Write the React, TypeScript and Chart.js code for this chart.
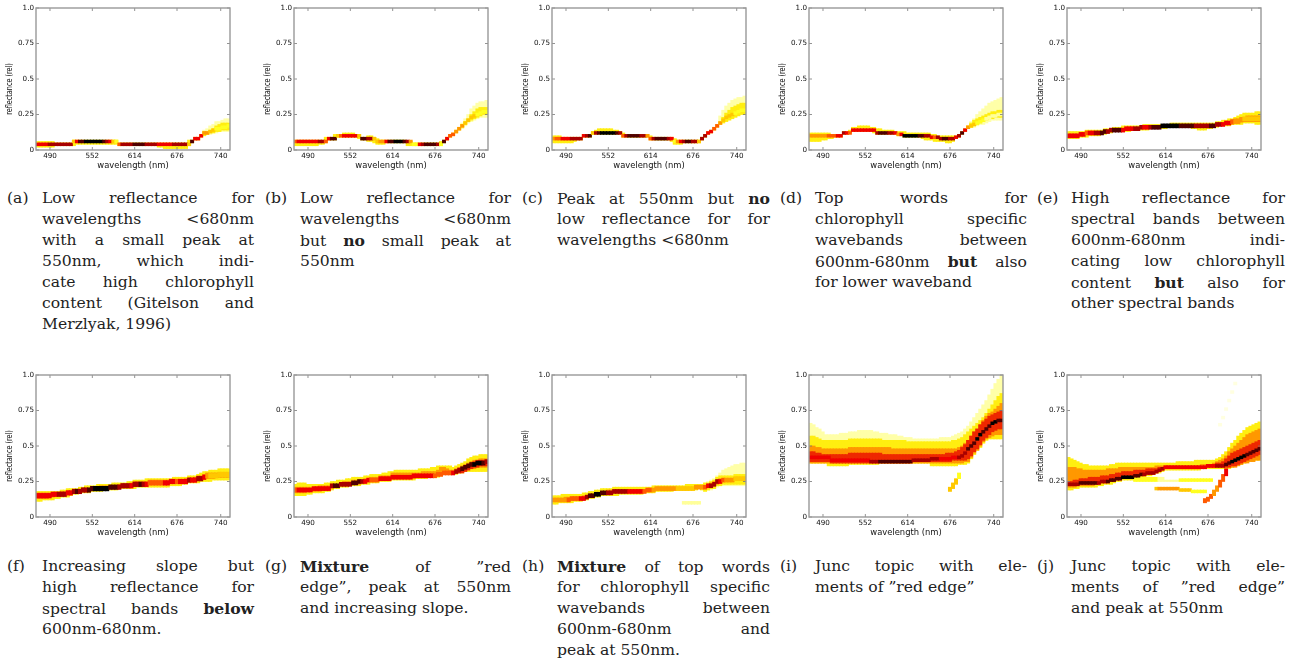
import React, { useEffect, useRef } from "react";
import { Chart, registerables } from "chart.js";

Chart.register(...registerables);

const WAVELENGTHS = [
  471.7, 476.2, 480.6, 485.0, 489.5, 493.9, 498.4, 502.8, 507.2, 511.7, 516.1, 520.6, 525.0, 529.4, 533.9, 538.3,
  542.7, 547.2, 551.6, 556.1, 560.5, 564.9, 569.4, 573.8, 578.3, 582.7, 587.1, 591.6, 596.0, 600.5, 604.9, 609.3,
  613.8, 618.2, 622.6, 627.1, 631.5, 636.0, 640.4, 644.8, 649.3, 653.7, 658.2, 662.6, 667.0, 671.5, 675.9, 680.4,
  684.8, 689.2, 693.7, 698.1, 702.5, 707.0, 711.4, 715.9, 720.3, 724.7, 729.2, 733.6, 738.1, 742.5, 746.9, 751.4,
];
const X_TICKS = [490, 552, 614, 676, 740];
const Y_TICKS = [0, 0.25, 0.5, 0.75, 1];
const Y_TICK_LABELS = ["0", "0.25", "0.5", "0.75", "1.0"];
const HEAT_COLORS = ["#ffffe0", "#ffff9a", "#ffff20", "#ffc800", "#ff9800", "#ff5a00", "#f00000", "#a80000", "#500000", "#000000"];

// All reflectance columns below are in hundredths of reflectance.
const aCore = [4,4,4,4,4,4,4,4, 4,4,4,4,6,6,6,6, 6,6,6,6,6,6,6,6, 6,6,6,4,4,4,4,4, 4,4,4,4,4,4,4,4, 4,4,4,4,4,4,4,4, 4,4,4,6,8,8,10,12, 12,13,14,15,15,16,16,17];
const aHeat = [6,6,6,6,7,7,7,7, 7,7,7,7,3,6,8,8, 9,9,9,9,9,9,8,7, 6,3,2,5,7,7,7,7, 8,8,8,8,7,7,7,7, 6,6,6,6,6,7,7,7, 7,7,3,8,6,6,6,4, 4,3,3,2,2,2,2,2];
const aBandLow = [2,2,2,2,2,2,3,3, 3,3,3,3,3,4,4,4, 4,4,4,4,4,4,4,4, 4,4,4,3,3,3,3,3, 3,3,3,3,3,3,3,3, 2,2,1,1,1,1,1,1, 1,1,3,5,7,7,9,10, 11,12,12,13,13,14,14,14];
const aBandHigh = [6,6,6,6,6,6,5,5, 5,5,5,5,7,7,7,7, 7,7,7,7,7,7,7,7, 7,7,7,5,5,5,5,5, 5,5,5,5,5,5,5,5, 5,5,5,5,5,5,5,5, 5,5,7,7,9,9,11,13, 13,14,15,17,18,19,19,19];
const aGlowLow = [10,11,11,12,12,13,13,13,13];
const aGlowHigh = [14,15,17,18,20,20,21,22,22];

const bCore = [6,6,6,6,6,6,6,6, 6,6,6,8,8,8,10,10, 10,10,10,10,10,10,8,8, 8,8,8,6,6,6,6,6, 6,6,6,6,6,6,6,4, 4,4,4,4,4,4,4,4, 4,6,8,10,11,13,15,17, 19,21,23,24,25,26,27,27];
const bHeat = [5,6,6,6,6,6,6,6, 7,7,5,6,8,8,3,5, 6,6,6,6,6,3,8,8, 7,7,3,3,4,4,6,8, 8,9,9,9,8,7,4,2, 2,6,7,8,8,8,8,7, 2,8,6,5,5,4,4,4, 3,3,3,3,2,2,2,2];
const bBandLow = [3,3,3,3,3,3,3,3, 4,4,5,7,7,7,9,9, 9,9,9,9,9,8,7,7, 6,6,5,4,4,4,5,5, 5,5,5,5,5,3,3,3, 3,3,3,3,3,3,3,3, 3,5,7,9,10,12,14,16, 18,20,21,22,23,24,25,25];
const bBandHigh = [7,7,7,7,7,7,7,7, 7,7,9,9,9,11,11,11, 12,12,12,12,11,11,9,9, 10,10,9,8,7,7,7,7, 7,7,7,7,7,6,6,5, 5,5,5,5,5,5,5,5, 6,7,9,11,12,14,16,18, 20,22,25,27,29,30,30,30];
const bGlowLow = [15,17,19,20,21,22,23,23,23];
const bGlowHigh = [19,22,25,29,31,33,34,34,35];

const cCore = [8,8,8,8,8,8,8,8, 8,8,10,10,10,12,12,12, 12,12,12,12,12,12,12,10, 10,10,10,10,10,10,10,10, 8,8,8,8,8,8,8,8, 6,6,6,6,6,6,6,6, 6,8,10,12,13,15,17,19, 21,23,24,25,26,27,28,28];
const cHeat = [4,5,5,6,6,6,7,7, 7,7,6,7,8,3,7,8, 9,9,9,9,9,8,7,5, 7,8,8,8,8,7,7,4, 5,7,8,8,8,8,7,6, 2,4,6,7,8,8,7,7, 3,7,7,6,6,5,5,4, 3,3,3,3,2,2,2,2];
const cBandLow = [5,5,5,5,5,5,5,6, 7,7,9,9,9,11,11,11, 11,11,11,11,11,11,11,9, 9,9,9,9,9,9,9,9, 7,7,7,7,7,7,7,6, 4,4,4,5,5,5,5,5, 5,7,9,11,12,14,16,18, 19,20,21,22,23,24,25,25];
const cBandHigh = [10,10,10,9,9,9,9,9, 9,9,11,11,11,13,14,15, 15,15,15,15,14,14,13,12, 11,11,11,11,11,11,11,11, 10,9,9,9,9,9,9,9, 8,7,7,7,7,7,7,7, 7,9,11,13,14,16,18,20, 23,26,28,30,31,32,33,33];
const cGlowLow = [19,20,21,22,23,24,25,25,25];
const cGlowHigh = [24,28,31,33,35,36,37,37,38];

const dCore = [10,10,10,10,10,10,10,10, 10,10,10,12,12,12,14,14, 14,14,14,14,14,14,12,12, 12,12,12,12,12,11,11,10, 10,10,10,10,10,10,10,10, 9,9,9,8,8,8,8,8, 9,10,12,14,16,17,18,19, 20,21,22,23,24,24,25,25];
const dHeat = [4,4,4,4,4,4,5,5, 5,6,6,7,6,5,6,6, 6,6,6,6,6,6,7,8, 8,8,7,7,6,4,6,9, 9,9,9,9,8,8,7,7, 6,5,7,7,8,8,7,7, 6,7,8,6,4,3,3,2, 2,2,1,1,1,1,1,1];
const dBandLow = [6,6,6,6,7,7,8,8, 9,9,9,11,11,12,13,13, 13,13,13,13,13,12,11,11, 11,11,11,11,11,10,10,9, 9,9,9,9,9,8,7,7, 7,6,6,6,6,5,5,6, 8,9,11,13,15,16,17,18, 19,20,21,22,22,23,23,23];
const dBandHigh = [12,12,12,12,12,12,12,11, 11,11,11,13,13,14,16,16, 17,17,17,17,16,16,15,15, 14,14,14,14,13,13,13,13, 12,12,12,12,12,12,12,12, 11,11,10,10,10,10,10,10, 10,11,13,15,17,19,21,22, 23,24,25,26,27,27,28,28];
const dGlowLow = [15,16,16,17,18,18,19,20,21,21,21,21];
const dGlowHigh = [17,20,22,25,27,29,31,33,34,35,36,37];

const eCore = [10,10,10,10,11,11,12,12, 12,12,12,12,13,13,14,14, 14,14,14,15,15,15,15,15, 16,16,16,16,16,16,16,17, 17,17,17,17,17,17,17,17, 17,17,17,17,17,17,17,17, 17,18,18,18,19,19,20,20, 20,21,22,22,22,22,22,22];
const eHeat = [6,6,6,6,6,6,5,6, 6,7,7,8,8,7,7,8, 8,8,6,6,6,6,7,7, 7,6,6,7,8,8,8,9, 9,9,9,9,9,8,8,8, 8,8,7,7,7,7,7,8, 8,7,7,6,6,6,5,4, 4,4,3,3,3,3,3,3];
const eBandLow = [8,8,8,8,9,9,9,10, 10,10,10,11,11,12,12,13, 13,13,13,13,13,14,14,14, 14,14,14,15,15,15,15,15, 15,16,16,16,16,16,16,16, 16,15,15,14,14,14,15,15, 16,16,17,17,17,17,18,18, 18,18,19,19,19,19,18,18];
const eBandHigh = [13,13,13,13,13,13,14,14, 14,14,14,14,15,15,15,16, 16,16,17,17,17,17,17,17, 17,18,18,18,18,18,18,18, 18,18,19,19,19,19,19,19, 19,19,19,19,19,19,19,19, 19,20,20,21,21,22,22,23, 24,25,26,26,26,26,27,27];
const eMidLow = [18,19,19,20,20,20,20,20,20,20];
const eMidHigh = [21,22,22,23,23,24,24,24,24,24];

const fCore = [15,15,15,15,15,16,16,16, 16,16,17,17,18,18,18,19, 19,19,20,20,20,20,20,20, 21,21,21,21,22,22,22,22, 23,23,23,23,23,24,24,24, 24,24,24,24,25,25,25,25, 25,25,26,26,26,27,27,28, 29,29,29,29,30,30,30,30];
const fHeat = [6,6,6,6,6,6,6,7, 7,7,6,6,7,8,7,7, 7,8,8,9,9,9,9,9, 8,8,8,7,7,7,7,6, 7,7,8,7,6,5,5,5, 5,5,6,6,6,6,5,6, 6,6,7,6,6,7,7,6, 4,3,3,3,3,3,3,3];
const fBandLow = [11,11,12,12,12,12,13,13, 14,14,14,15,16,16,17,17, 17,17,18,18,18,18,19,19, 19,19,19,20,20,20,20,20, 20,21,21,21,21,21,21,21, 21,21,21,21,22,22,22,22, 23,23,24,24,24,24,25,25, 25,25,26,26,26,26,26,26];
const fBandHigh = [18,18,18,18,18,18,18,18, 19,19,20,20,20,20,21,21, 22,22,22,22,23,23,23,23, 23,24,24,24,24,24,25,25, 26,26,26,26,27,27,27,27, 27,27,27,27,27,28,28,28, 28,28,29,29,29,30,31,32, 32,33,33,33,34,34,34,34];
const fMidLow = [13,13,13,13,14,14,15,15, 15,15,16,16,17,17,17,18, 18,18,19,19,19,19,20,20, 20,20,20,21,21,21,21,21, 22,22,22,22,22,23,23,23, 23,23,23,23,24,24,24,24, 24,24,25,25,25,26,26,27, 27,27,27,28,28,28,28,28];
const fMidHigh = [17,17,17,17,17,17,17,17, 18,18,18,18,19,19,19,20, 20,20,21,21,21,22,22,22, 22,22,22,23,23,23,23,24, 25,25,25,25,25,26,26,26, 26,26,26,26,26,26,26,26, 26,27,27,27,28,29,29,30, 31,31,31,31,31,31,31,31];

const gCore = [19,19,19,19,19,19,20,20, 20,20,20,20,22,22,22,23, 23,23,23,24,24,25,25,25, 26,26,26,26,27,27,27,27, 28,28,28,28,28,28,28,29, 29,29,29,29,29,29,29,30, 30,31,31,31,31,32,33,34, 35,36,37,37,38,38,38,39];
const gHeat = [5,6,6,6,6,6,6,6, 6,6,6,6,7,8,8,7, 7,7,7,8,8,8,7,6, 6,5,5,5,6,6,6,6, 6,6,6,6,6,6,6,6, 6,6,6,6,6,6,5,5, 5,5,5,5,6,7,7,8, 8,8,8,9,9,9,8,7];
const gBandLow = [15,15,15,15,16,16,17,17, 17,17,18,18,19,20,20,21, 21,21,22,22,22,22,23,23, 23,24,24,24,25,25,25,25, 26,26,26,26,26,26,26,26, 27,27,27,27,28,28,28,28, 29,30,30,30,30,30,31,31, 32,32,32,32,32,32,32,32];
const gBandHigh = [23,24,24,24,23,23,23,23, 23,23,24,24,25,25,26,26, 26,27,27,28,28,28,28,29, 29,30,30,30,30,31,31,32, 32,33,33,33,33,33,33,33, 33,34,34,34,34,35,35,36, 36,36,36,36,35,36,37,38, 39,41,42,43,43,44,44,44];
const gMidLow = [17,17,17,17,18,18,18,18, 18,19,19,19,20,21,21,22, 22,22,22,23,23,23,24,24, 25,25,25,25,26,26,26,26, 27,27,27,27,27,27,27,27, 28,28,28,28,28,29,29,29, 29,30,30,30,30,31,31,32, 33,34,34,34,35,35,35,35];
const gMidHigh = [21,21,21,21,21,21,21,21, 22,22,22,22,23,23,23,24, 25,25,25,26,26,26,26,27, 27,28,28,28,29,29,29,29, 31,31,31,31,31,31,31,31, 31,31,32,32,32,32,32,33, 35,35,34,33,33,34,35,36, 37,38,39,40,40,41,41,41];
const gDeepLow = [31,31,32,33,34,35,35,36,36,36];
const gDeepHigh = [33,35,36,37,38,39,40,40,40,40];

const hCore = [12,12,12,12,12,12,13,13, 13,13,13,14,15,15,16,16, 17,17,17,17,18,18,18,18, 18,18,18,18,18,18,18,19, 19,19,20,20,20,20,20,20, 20,20,20,20,20,20,20,21, 21,21,21,22,22,23,25,25, 26,26,26,26,27,27,27,27];
const hHeat = [4,4,4,4,4,5,5,5, 5,6,6,7,8,8,9,9, 8,8,7,7,7,7,7,7, 7,6,6,6,6,6,5,5, 5,4,4,4,4,4,4,4, 4,3,3,3,3,3,3,4, 4,4,5,6,7,7,7,6, 5,4,4,4,3,3,3,3];
const hBandLow = [9,9,10,10,10,10,10,11, 11,11,12,12,13,13,14,14, 15,15,15,15,15,15,16,16, 16,16,16,16,16,16,17,17, 17,17,18,18,18,18,18,18, 19,19,19,19,19,19,19,19, 20,19,18,19,20,20,22,22, 23,23,23,23,23,23,23,23];
const hBandHigh = [15,15,15,16,16,16,16,16, 16,16,17,17,18,18,19,19, 20,20,20,20,21,21,21,21, 21,21,21,21,21,21,21,21, 21,22,22,22,22,22,22,22, 22,22,22,22,23,23,23,23, 23,23,24,24,25,26,28,29, 29,29,29,29,30,30,30,30];
const hMidLow = [11,11,11,11,11,11,12,12, 12,12,12,13,14,14,15,15, 16,16,16,16,17,17,17,17, 17,17,17,17,17,17,17,18, 18,18,19,19,19,19,19,19, 19,19,19,19,19,20,20,20, 20,20,20,21,21,22,23,24, 25,25,25,25,26,26,26,26];
const hMidHigh = [13,13,13,13,14,14,14,14, 14,14,15,15,16,16,17,17, 18,18,19,19,19,19,19,19, 19,19,19,19,19,19,19,20, 20,20,21,21,21,21,21,21, 21,21,21,21,21,21,21,22, 22,22,22,23,24,25,26,27, 27,27,27,27,28,28,28,28];
const hGlowLow = [19,19,19,20,21,22,22,22,22,22,22,22,22,22];
const hGlowHigh = [24,25,26,27,29,31,33,34,35,36,37,37,38,38];
const hSpeckLow = [9,9,9,9,9,9];
const hSpeckHigh = [11,11,11,11,11,11];
const hSpeckHeat = [1,1,1,1,1,1];

const iCore = [42,42,42,42,42,42,42,40, 40,40,40,40,40,40,40,40, 40,40,40,40,39,39,39,39, 39,39,39,39,39,39,39,39, 39,39,40,40,40,40,40,40, 41,41,41,41,41,41,41,42, 42,42,43,45,48,50,52,55, 58,60,62,64,66,67,68,68];
const iHeat = [6,6,6,6,6,6,6,6, 6,6,6,6,6,6,6,6, 6,6,6,6,7,7,7,8, 8,8,8,8,8,8,8,8, 8,8,7,7,7,7,7,7, 7,7,7,6,6,6,6,6, 6,7,7,7,8,8,8,9, 9,8,8,8,9,9,8,8];
const iDeepLow = [39,39,39,39,39,39,39,38, 38,38,38,38,38,38,38,38, 38,38,38,38,38,38,38,38, 38,38,38,38,38,38,38,38, 38,38,39,39,39,39,39,39, 39,39,39,39,39,39,39,40, 40,40,40,40,41,43,46,48, 51,54,56,58,60,61,62,62];
const iDeepHigh = [46,46,45,45,44,44,44,44, 44,44,44,44,44,45,45,45, 45,45,45,45,45,45,45,45, 44,44,44,44,44,44,44,44, 44,44,44,44,44,44,44,44, 44,44,44,44,44,45,45,45, 46,47,49,51,54,57,60,62, 65,67,69,71,72,73,74,75];
const iMidLow = [38,38,38,38,38,38,38,38, 38,38,38,38,38,38,38,38, 38,38,38,38,38,38,38,38, 38,38,38,38,38,38,38,38, 38,38,38,38,38,38,38,38, 38,38,38,38,38,38,38,38, 38,38,38,39,39,42,45,47, 50,53,55,56,57,58,58,58];
const iMidHigh = [50,50,49,49,48,48,48,48, 48,48,48,48,48,49,49,49, 49,49,49,49,49,49,49,49, 49,49,49,48,48,48,48,48, 48,48,48,48,48,48,48,48, 48,48,48,48,48,48,48,48, 48,49,50,52,54,57,60,62, 65,68,71,73,74,76,78,80];
const iBandLow = [38,38,38,38,38,38,36,36, 36,36,36,36,36,37,37,37, 37,37,37,37,37,37,37,38, 38,38,38,38,38,38,38,38, 38,38,38,38,38,38,38,38, 36,36,36,36,36,36,36,36, 36,37,37,37,38,41,44,47, 49,52,54,55,55,55,55,55];
const iBandHigh = [57,57,56,55,54,54,54,54, 54,54,54,54,54,55,55,55, 55,55,55,55,55,55,55,55, 54,54,54,54,54,54,54,54, 53,53,53,53,53,53,53,53, 53,53,53,53,53,53,53,54, 54,55,56,58,60,62,64,66, 68,70,73,76,79,82,85,87];
const iGlowLow = [38,38,38,38,38,38,38,38, 38,38,38,38,38,38,38,38, 38,38,38,38,38,38,38,38, 38,38,38,38,38,38,38,38, 38,38,38,38,38,38,38,38, 38,38,38,38,38,38,38,38, 38,38,38,38,38,41,44,47, 49,52,54,55,55,55,55,55];
const iGlowHigh = [66,65,63,62,60,58,58,58, 58,58,59,59,59,60,60,60, 61,61,61,61,61,60,60,59, 59,59,58,58,58,57,57,56, 56,56,55,55,55,55,55,55, 55,55,55,56,56,56,56,57, 58,59,60,62,64,67,70,73, 76,79,82,86,90,94,97,100];
const iSpurLow = [18,20,23,27];
const iSpurHigh = [21,24,27,31];
const iSpurHeat = [3,3,3,2];

const jCore = [23,23,23,23,24,24,24,24, 24,24,24,25,25,25,26,26, 27,27,28,28,28,28,29,29, 30,30,31,31,31,32,33,34, 35,35,35,35,35,35,35,35, 35,35,35,35,35,35,36,36, 36,36,36,36,37,38,39,40, 41,42,43,44,45,46,47,48];
const jHeat = [7,7,7,7,8,8,8,8, 8,8,7,7,7,8,8,8, 8,8,9,9,9,9,8,8, 8,7,7,7,7,7,7,7, 6,6,6,6,6,6,6,6, 6,6,6,6,6,6,6,6, 6,7,7,7,8,8,9,9, 9,9,9,8,8,8,8,8];
const jDeepLow = [22,22,22,22,23,23,23,23, 23,23,23,24,24,24,25,25, 26,26,27,27,27,27,28,28, 29,29,30,30,30,31,32,33, 34,34,34,34,34,34,34,34, 34,34,34,34,34,34,35,35, 35,35,35,35,35,35,36,36, 37,38,39,40,41,42,43,44];
const jDeepHigh = [25,25,26,26,27,27,27,28, 28,28,28,29,29,29,30,30, 31,31,32,32,32,32,33,33, 33,33,34,34,34,34,35,35, 36,36,36,36,36,36,36,36, 36,36,36,36,36,36,37,37, 37,38,38,39,41,43,45,46, 47,48,49,50,51,52,53,54];
const jMidLow = [21,21,21,22,22,22,22,22, 22,23,23,24,24,24,25,25, 26,26,27,27,27,27,28,28, 29,29,30,30,30,31,32,33, 34,34,34,34,34,34,34,34, 34,34,34,34,34,34,35,35, 35,35,35,35,35,35,35,35, 36,37,38,38,39,39,40,40];
const jMidHigh = [35,35,35,34,34,33,33,33, 33,33,33,33,33,34,34,34, 34,35,35,35,35,35,35,35, 35,35,35,35,35,36,36,36, 36,36,36,36,36,36,36,36, 36,36,36,36,37,37,37,37, 38,39,40,41,43,46,48,50, 52,54,56,58,59,60,61,62];
const jBandLow = [19,19,20,20,21,21,21,21, 21,21,22,22,23,23,23,24, 25,25,26,26,26,26,26,27, 28,28,29,29,30,31,31,32, 33,33,33,33,33,33,33,33, 33,33,33,33,34,34,34,34, 34,34,34,34,34,34,35,36, 37,37,38,39,40,40,40,40];
const jBandHigh = [42,41,40,39,38,37,37,36, 36,36,36,36,36,36,37,37, 38,38,38,38,38,38,38,38, 38,38,38,38,38,38,38,38, 38,38,38,38,39,39,39,39, 39,39,40,40,40,40,40,40, 40,41,42,44,46,49,52,54, 57,59,61,63,64,65,66,67];
const jStreakLow = [25,25,25,25,25,25,25,25,25,25,25,25,25,25,25,25,25,25,25,25,25,25,25,25,25,25];
const jStreakHigh = [28,28,28,28,28,28,28,28,28,28,26,26,26,26,26,27,27,27,27,27,27,27,27,27,27,27];
const jStreakHeat = [2,2,2,2,2,2,2,2,1,1,1,1,1,1,1,2,2,2,2,2,2,2,2,2,2,2];
const jLowerLow = [19,19,19,19,19,19,19,19,18,18,18,18,17,17,17,17,17];
const jLowerHigh = [21,21,21,21,21,21,21,21,20,20,20,20,19,19,19,19,19];
const jLowerHeat = [3,4,4,4,4,4,4,4,3,3,3,3,2,2,2,2,2];
const jBranchLow = [10,11,13,15,18,21,25,29];
const jBranchHigh = [13,14,16,19,22,26,30,34];
const jBranchHeat = [5,5,5,4,4,5,5,6];
const jFaintLow = [64,69,75,81,87,93];
const jFaintHigh = [66,71,77,83,89,95];
const jFaintHeat = [0,0,0,0,0,0];

const PLOT_LEFTS = [36, 294, 552, 809, 1067];
const ROW_TOPS = [8, 375];
const COL_COUNT = WAVELENGTHS.length;
const AXIS_W = 36, PLOT_W = 194, PLOT_H = 142, PAD_R = 6, PAD_T = 8, XAXIS_H = 21;

type Spur = { start: number; low: number[]; high: number[]; heat: number[] };
type P = { core: number[]; heat: number[]; bandLow: number[]; bandHigh: number[]; glowLow?: number[]; glowHigh?: number[]; midLow?: number[]; midHigh?: number[]; deepLow?: number[]; deepHigh?: number[]; spurs?: Spur[]; coreHalf?: number };

const PANELS: P[] = [
  { core: aCore, heat: aHeat, bandLow: aBandLow, bandHigh: aBandHigh, glowLow: aGlowLow, glowHigh: aGlowHigh },
  { core: bCore, heat: bHeat, bandLow: bBandLow, bandHigh: bBandHigh, glowLow: bGlowLow, glowHigh: bGlowHigh },
  { core: cCore, heat: cHeat, bandLow: cBandLow, bandHigh: cBandHigh, glowLow: cGlowLow, glowHigh: cGlowHigh },
  { core: dCore, heat: dHeat, bandLow: dBandLow, bandHigh: dBandHigh, glowLow: dGlowLow, glowHigh: dGlowHigh },
  { core: eCore, heat: eHeat, bandLow: eBandLow, bandHigh: eBandHigh, midLow: eMidLow, midHigh: eMidHigh, coreHalf: 1.4 },
  { core: fCore, heat: fHeat, bandLow: fBandLow, bandHigh: fBandHigh, midLow: fMidLow, midHigh: fMidHigh, coreHalf: 1.6 },
  { core: gCore, heat: gHeat, bandLow: gBandLow, bandHigh: gBandHigh, midLow: gMidLow, midHigh: gMidHigh, deepLow: gDeepLow, deepHigh: gDeepHigh, coreHalf: 1.4 },
  { core: hCore, heat: hHeat, bandLow: hBandLow, bandHigh: hBandHigh, midLow: hMidLow, midHigh: hMidHigh, glowLow: hGlowLow, glowHigh: hGlowHigh, coreHalf: 1.4, spurs: [{ start: 43, low: hSpeckLow, high: hSpeckHigh, heat: hSpeckHeat }] },
  { core: iCore, heat: iHeat, bandLow: iBandLow, bandHigh: iBandHigh, glowLow: iGlowLow, glowHigh: iGlowHigh, midLow: iMidLow, midHigh: iMidHigh, deepLow: iDeepLow, deepHigh: iDeepHigh, spurs: [{ start: 46, low: iSpurLow, high: iSpurHigh, heat: iSpurHeat }] },
  { core: jCore, heat: jHeat, bandLow: jBandLow, bandHigh: jBandHigh, midLow: jMidLow, midHigh: jMidHigh, deepLow: jDeepLow, deepHigh: jDeepHigh, spurs: [
    { start: 22, low: jStreakLow, high: jStreakHigh, heat: jStreakHeat },
    { start: 29, low: jLowerLow, high: jLowerHigh, heat: jLowerHeat },
    { start: 45, low: jBranchLow, high: jBranchHigh, heat: jBranchHeat },
    { start: 50, low: jFaintLow, high: jFaintHigh, heat: jFaintHeat },
  ] },
];

const CAPTION_LABELS = ["(a)", "(b)", "(c)", "(d)", "(e)", "(f)", "(g)", "(h)", "(i)", "(j)"];
const CAPTION_LINES: string[][] = [
  ["Low reflectance for", "wavelengths <680nm", "with a small peak at", "550nm, which indi-", "cate high chlorophyll", "content (Gitelson and", "Merzlyak, 1996)"],
  ["Low reflectance for", "wavelengths <680nm", "but *no* small peak at", "550nm"],
  ["Peak at 550nm but *no*", "low reflectance for for", "wavelengths <680nm"],
  ["Top words for", "chlorophyll specific", "wavebands between", "600nm-680nm *but* also", "for lower waveband"],
  ["High reflectance for", "spectral bands between", "600nm-680nm indi-", "cating low chlorophyll", "content *but* also for", "other spectral bands"],
  ["Increasing slope but", "high reflectance for", "spectral bands *below*", "600nm-680nm."],
  ["*Mixture* of ”red", "edge”, peak at 550nm", "and increasing slope."],
  ["*Mixture* of top words", "for chlorophyll specific", "wavebands between", "600nm-680nm and", "peak at 550nm."],
  ["Junc topic with ele-", "ments of ”red edge”"],
  ["Junc topic with ele-", "ments of ”red edge”", "and peak at 550nm"],
];
const LABEL_X = [7, 265, 522, 780, 1037];
const TEXT_X = [42, 300, 557, 815, 1071];
const TEXT_W = [212, 211, 213, 212, 214];
const CAPTION_Y = [188, 556];
const LINE_H = 21;

const inwardTicks = {
  id: "inwardTicks",
  afterDatasetsDraw(chart: any) {
    const { ctx, chartArea: a, scales } = chart;
    ctx.save();
    ctx.strokeStyle = "#777";
    ctx.lineWidth = 0.8;
    ctx.beginPath();
    for (const t of X_TICKS) {
      const x = scales.x.getPixelForValue(t);
      ctx.moveTo(x, a.bottom); ctx.lineTo(x, a.bottom - 3);
      ctx.moveTo(x, a.top); ctx.lineTo(x, a.top + 3);
    }
    for (const t of Y_TICKS) {
      const y = scales.y.getPixelForValue(t);
      ctx.moveTo(a.left, y); ctx.lineTo(a.left + 3, y);
      ctx.moveTo(a.right, y); ctx.lineTo(a.right - 3, y);
    }
    ctx.stroke();
    ctx.strokeStyle = "#999";
    ctx.lineWidth = 1.4;
    ctx.strokeRect(a.left, a.top, a.right - a.left, a.bottom - a.top);
    // y-axis title, squeezed along its length and sitting below the axis centre as in the figure
    ctx.translate(10, (a.top + a.bottom) / 2 + 10);
    ctx.rotate(-Math.PI / 2);
    ctx.scale(0.72, 1);
    ctx.font = "9px 'DejaVu Sans'";
    ctx.fillStyle = "#111";
    ctx.textAlign = "center";
    ctx.textBaseline = "middle";
    ctx.fillText("reflectance (rel)", 0, 0);
    ctx.restore();
  },
};

function rangeData(low: number[], high: number[], start: number) {
  return low.map((l, i) => ({ x: WAVELENGTHS[start + i], y: [l / 100, high[i] / 100] }));
}
const tailStart = (arr: number[]) => COL_COUNT - arr.length;

function buildDatasets(p: P) {
  const common = { barThickness: 3.3, borderWidth: 0, grouped: false, borderSkipped: false };
  const half = p.coreHalf ?? 1;
  const ds: any[] = [];
  ds.push({
    ...common,
    data: p.core.map((c, i) => ({ x: WAVELENGTHS[i], y: [(c - half) / 100, (c + half) / 100] })),
    backgroundColor: p.heat.map((h) => HEAT_COLORS[h]),
  });
  for (const s of p.spurs ?? []) {
    ds.push({ ...common, data: rangeData(s.low, s.high, s.start), backgroundColor: s.heat.map((h) => HEAT_COLORS[h]) });
  }
  if (p.deepLow) ds.push({ ...common, data: rangeData(p.deepLow, p.deepHigh!, tailStart(p.deepLow)), backgroundColor: "#ee2800" });
  if (p.midLow) ds.push({ ...common, data: rangeData(p.midLow, p.midHigh!, tailStart(p.midLow)), backgroundColor: "#ff9800" });
  ds.push({ ...common, data: rangeData(p.bandLow, p.bandHigh, 0), backgroundColor: "#ffee10" });
  if (p.glowLow) ds.push({ ...common, data: rangeData(p.glowLow, p.glowHigh!, tailStart(p.glowLow)), backgroundColor: "#ffffa8" });
  return ds;
}

function Panel({ p, left, top }: { p: P; left: number; top: number }) {
  const ref = useRef<HTMLCanvasElement>(null);
  useEffect(() => {
    const tickFont = { family: "'DejaVu Sans'", size: 7.2 };
    const titleFont = { family: "'DejaVu Sans'", size: 8.4 };
    const chart = new Chart(ref.current!, {
      type: "bar",
      data: { datasets: buildDatasets(p) },
      plugins: [inwardTicks],
      options: {
        animation: false,
        responsive: false,
        layout: { padding: { top: PAD_T, right: PAD_R, left: 0, bottom: 0 } },
        plugins: { legend: { display: false }, tooltip: { enabled: false } },
        scales: {
          x: {
            type: "linear",
            min: 469.5,
            max: 753.6,
            offset: false,
            grid: { display: false, drawTicks: false, tickLength: 0 },
            border: { display: false },
            afterBuildTicks: (s: any) => { s.ticks = X_TICKS.map((value) => ({ value })); },
            afterFit: (s: any) => { s.height = XAXIS_H; },
            ticks: { font: tickFont, color: "#111", padding: 2, maxRotation: 0, autoSkip: false, callback: (v: any) => String(v) },
            title: { display: true, text: "wavelength (nm)", font: titleFont, color: "#111", padding: { top: 0, bottom: 0 } },
          },
          y: {
            type: "linear",
            min: 0,
            max: 1,
            grid: { display: false, drawTicks: false, tickLength: 0 },
            border: { display: false },
            afterBuildTicks: (s: any) => { s.ticks = Y_TICKS.map((value) => ({ value })); },
            afterFit: (s: any) => { s.width = AXIS_W; },
            ticks: {
              font: tickFont, color: "#111", padding: 2, autoSkip: false,
              callback: (v: any) => Y_TICK_LABELS[Y_TICKS.indexOf(v)],
            },
          },
        },
      } as any,
    });
    return () => chart.destroy();
  }, [p]);
  return (
    <canvas
      ref={ref}
      width={AXIS_W + PLOT_W + PAD_R}
      height={PAD_T + PLOT_H + XAXIS_H}
      style={{ position: "absolute", left: left - AXIS_W, top: top - PAD_T, display: "block", filter: "blur(0.45px)" }}
    />
  );
}

function LineText({ text }: { text: string }) {
  const parts = text.split("*");
  return <>{parts.map((t, i) => (i % 2 ? <b key={i}>{t}</b> : <span key={i}>{t}</span>))}</>;
}

const captionFont: React.CSSProperties = { position: "absolute", fontFamily: "'DejaVu Serif', serif", fontSize: 15.6, lineHeight: `${LINE_H}px`, color: "#222", whiteSpace: "nowrap" };

export default function App() {
  return (
    <div style={{ position: "absolute", left: 0, top: 0, width: 1298, height: 660, overflow: "hidden", background: "#fff" }}>
      {PANELS.map((p, i) => (
        <Panel key={i} p={p} left={PLOT_LEFTS[i % 5]} top={ROW_TOPS[Math.floor(i / 5)]} />
      ))}
      {CAPTION_LINES.map((lines, i) => {
        const col = i % 5;
        const y = CAPTION_Y[Math.floor(i / 5)];
        return (
          <React.Fragment key={i}>
            <div style={{ ...captionFont, left: LABEL_X[col], top: y }}>{CAPTION_LABELS[i]}</div>
            {lines.map((line, k) => (
              <div
                key={k}
                style={{
                  ...captionFont,
                  left: TEXT_X[col],
                  top: y + k * LINE_H,
                  width: TEXT_W[col],
                  whiteSpace: "normal",
                  textAlign: k < lines.length - 1 ? "justify" : "left",
                  textAlignLast: k < lines.length - 1 ? "justify" : "left",
                }}
              >
                <LineText text={line} />
              </div>
            ))}
          </React.Fragment>
        );
      })}
    </div>
  );
}
